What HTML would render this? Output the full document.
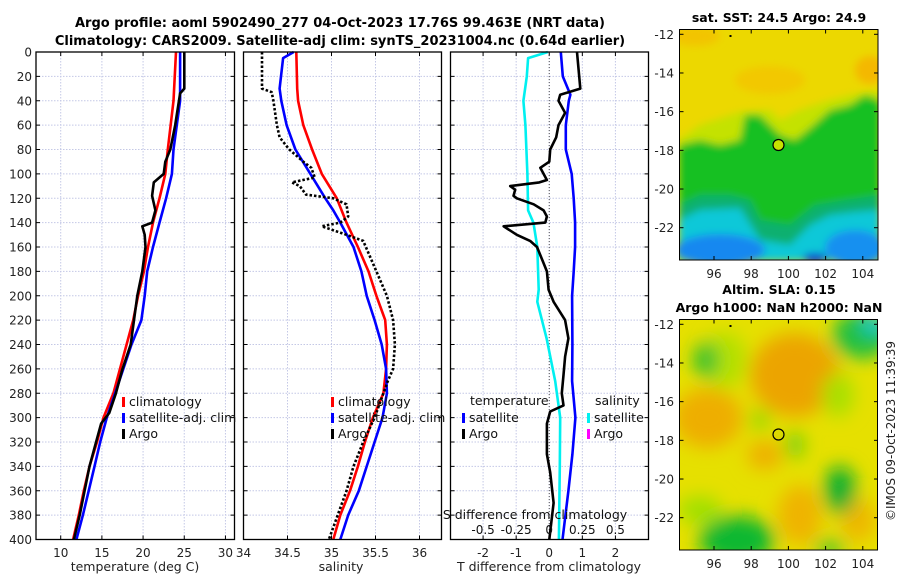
<!DOCTYPE html>
<html><head><meta charset="utf-8">
<style>
html,body{margin:0;padding:0;background:#fff;width:900px;height:580px;overflow:hidden}
svg{display:block;font-family:"DejaVu Sans","Liberation Sans",sans-serif}
</style></head>
<body>
<svg id="fig" width="900" height="580" viewBox="0 0 900 580">
<defs>
<filter id="blur1" x="-20%" y="-20%" width="140%" height="140%"><feGaussianBlur stdDeviation="4"/></filter>
<filter id="blur2" x="-50%" y="-50%" width="200%" height="200%"><feGaussianBlur stdDeviation="9"/></filter>
<clipPath id="clipM1"><rect x="679.5" y="29.5" width="198.5" height="230.5"/></clipPath>
<clipPath id="clipM2"><rect x="679.5" y="319.5" width="198" height="230.5"/></clipPath>
</defs>
<text x="340" y="27" text-anchor="middle" font-size="13" font-weight="bold">Argo profile: aoml 5902490_277 04-Oct-2023 17.76S 99.463E (NRT data)</text>
<text x="340" y="45" text-anchor="middle" font-size="13" font-weight="bold">Climatology: CARS2009. Satellite-adj clim: synTS_20231004.nc (0.64d earlier)</text>

<!-- Map 1 : SST -->
<g>
<text x="779" y="22" text-anchor="middle" font-size="12.5" font-weight="bold">sat. SST: 24.5 Argo: 24.9</text>
<g clip-path="url(#clipM1)">
<rect x="679" y="29" width="200" height="232" fill="#ecd800"/>
<g filter="url(#blur1)">
<ellipse cx="695" cy="36" rx="25" ry="10" fill="#f2c400"/>
<ellipse cx="870" cy="70" rx="15" ry="14" fill="#f4b800"/>
<ellipse cx="770" cy="80" rx="35" ry="14" fill="#f2c800"/>
<polygon points="679,140 700,125 740,112 770,110 780,120 800,110 830,100 850,95 880,90 880,150 679,175" fill="#c4e200"/>
<polygon points="679,145 700,140 720,145 740,140 745,115 760,115 780,135 795,140 810,128 830,110 850,105 865,95 880,100 880,235 679,235" fill="#16c020"/>
<polygon points="679,205 700,195 730,195 750,200 760,220 790,225 815,205 845,200 880,195 880,261 679,261" fill="#10b070"/>
<polygon points="679,220 700,210 740,208 760,240 790,245 810,225 830,215 855,212 880,210 880,261 679,261" fill="#10c8d8"/>
<ellipse cx="720" cy="250" rx="45" ry="16" fill="#1888f0"/>
<ellipse cx="855" cy="248" rx="30" ry="18" fill="#1890f0"/>
<ellipse cx="815" cy="258" rx="12" ry="5" fill="#1040d0"/>
</g>
</g>
<rect x="679.5" y="29.5" width="198.5" height="230.5" fill="none" stroke="#000" stroke-width="1"/>
<circle cx="778.5" cy="145" r="5.5" fill="#c8e200" stroke="#000" stroke-width="1.2"/>
<rect x="729.5" y="35" width="2" height="2" fill="#000"/>
<g id="m1ticks" font-size="12" fill="#222"></g>
</g>

<!-- Map 2 : SLA -->
<g>
<text x="779" y="294" text-anchor="middle" font-size="12.5" font-weight="bold">Altim. SLA: 0.15</text>
<text x="779" y="312" text-anchor="middle" font-size="12.5" font-weight="bold">Argo h1000: NaN h2000: NaN</text>
<g clip-path="url(#clipM2)">
<rect x="679" y="319" width="200" height="232" fill="#e6e000"/>
<g filter="url(#blur2)">
<ellipse cx="795" cy="375" rx="45" ry="42" fill="#eca400"/>
<ellipse cx="708" cy="418" rx="35" ry="30" fill="#eeae00"/>
<ellipse cx="765" cy="455" rx="18" ry="15" fill="#eeb000"/>
<ellipse cx="800" cy="515" rx="22" ry="30" fill="#efb400"/>
<ellipse cx="858" cy="520" rx="18" ry="22" fill="#eeb800"/>
<ellipse cx="725" cy="360" rx="22" ry="28" fill="#b4e000"/>
<ellipse cx="706" cy="360" rx="12" ry="18" fill="#20c030"/>
<ellipse cx="862" cy="335" rx="30" ry="24" fill="#20c040"/>
<ellipse cx="874" cy="324" rx="12" ry="9" fill="#10c8e0"/>
<ellipse cx="838" cy="395" rx="16" ry="22" fill="#a8e000"/>
<ellipse cx="737" cy="540" rx="38" ry="24" fill="#10b830"/>
<ellipse cx="840" cy="490" rx="16" ry="24" fill="#10b030"/>
<ellipse cx="700" cy="510" rx="22" ry="14" fill="#a0e000"/>
<ellipse cx="795" cy="445" rx="9" ry="14" fill="#70d010"/>
<ellipse cx="760" cy="420" rx="10" ry="10" fill="#90d800"/>
<ellipse cx="830" cy="548" rx="16" ry="7" fill="#20c030"/>
</g>
</g>
<rect x="679.5" y="319.5" width="198" height="230.5" fill="none" stroke="#000" stroke-width="1"/>
<circle cx="778.5" cy="434.5" r="5.5" fill="none" stroke="#000" stroke-width="1.2"/>
<rect x="729.5" y="325" width="2" height="2" fill="#000"/>
<g id="m2ticks" font-size="12" fill="#222"></g>
</g>

<text transform="translate(895,431) rotate(-90)" text-anchor="middle" font-size="12" fill="#222">©IMOS 09-Oct-2023 11:39:39</text>

<g id="panels"></g>
</svg>
<script>
// ---- data ----
const depthTicks = [0,20,40,60,80,100,120,140,160,180,200,220,240,260,280,300,320,340,360,380,400];
const tempTicks = [10,15,20,25,30];
const salTicks = [34,34.5,35,35.5,36];
const salTickLabels = ["34","34.5","35","35.5","36"];
const dTicks = [-2,-1,0,1,2];
const sdTicks = [-0.5,-0.25,0,0.25,0.5];
const sdTickLabels = ["-0.5","-0.25","0","0.25","0.5"];

const climTDepth = [0,40,80,100,120,140,160,180,200,220,240,260,280,300,320,340,360,380,400];
const climT = [24.0,23.7,23.0,22.7,22.0,21.2,20.6,20.1,19.4,18.8,18.0,17.2,16.4,15.2,14.4,13.5,12.8,12.2,11.5];
const satTDepth = [0,40,60,80,100,120,140,160,180,200,220,240,260,280,300,320,340,360,380,400];
const satT = [24.5,24.5,24.1,23.7,23.5,22.8,22.0,21.2,20.5,20.2,19.8,18.6,17.6,16.6,15.6,14.8,14.1,13.4,12.7,11.9];
const argoTDepth = [0,30,34,60,80,90,100,107,118,130,140,143,150,160,180,200,220,240,260,280,296,305,320,340,360,380,400];
const argoT = [25.0,25.0,24.5,23.9,23.3,22.7,22.5,21.3,21.1,21.5,21.1,19.9,20.2,20.3,19.9,19.3,18.9,18.5,17.5,16.7,15.9,14.9,14.3,13.5,12.9,12.3,11.6];

const climSDepth = [0,30,40,60,80,100,120,140,160,180,200,220,240,260,280,300,320,340,360,380,400];
const climS = [34.60,34.61,34.62,34.68,34.78,34.89,35.06,35.17,35.30,35.42,35.51,35.61,35.63,35.62,35.59,35.47,35.38,35.30,35.21,35.10,35.02];
const satSDepth = [0,5,30,40,60,80,100,120,130,140,160,180,200,220,240,260,280,300,320,340,360,380,400];
const satS = [34.57,34.45,34.41,34.43,34.49,34.59,34.76,34.93,35.02,35.10,35.25,35.34,35.40,35.49,35.57,35.62,35.63,35.58,35.49,35.40,35.31,35.19,35.10];
const argoSDepth = [0,30,33,40,60,70,80,90,95,103,107,110,117,120,125,135,140,143,150,155,165,180,200,220,240,260,270,300,320,340,360,380,400];
const argoS = [34.21,34.21,34.32,34.34,34.38,34.41,34.52,34.68,34.77,34.81,34.55,34.64,34.71,35.02,35.17,35.19,35.10,34.89,35.17,35.36,35.42,35.51,35.63,35.70,35.72,35.70,35.64,35.49,35.36,35.25,35.17,35.07,34.97];

const satTdDepth = [0,20,35,40,60,80,100,120,140,160,180,200,240,270,300,330,360,400];
const satTd = [0.35,0.41,0.64,0.59,0.50,0.50,0.68,0.74,0.78,0.78,0.74,0.69,0.70,0.69,0.79,0.70,0.58,0.40];
const argoTdDepth = [0,30,35,40,50,60,70,80,90,95,100,105,107,110,113,118,120,125,130,135,140,143,150,155,160,170,180,195,205,220,235,250,265,280,290,295,305,330,345,370,400];
const argoTd = [0.84,0.94,0.33,0.28,0.48,0.28,0.21,0.03,0.0,-0.27,-0.17,-0.07,-0.3,-1.18,-1.03,-1.08,-0.98,-0.47,-0.17,-0.07,-0.12,-1.38,-0.98,-0.58,-0.37,-0.22,-0.07,-0.02,0.13,0.48,0.58,0.48,0.43,0.38,0.43,0.03,-0.07,-0.07,0.03,0.13,0.0];
const satSdDepth = [0,5,20,40,60,100,130,140,160,195,205,235,270,300,340,400];
const satSd = [-0.01,-0.16,-0.17,-0.195,-0.18,-0.165,-0.16,-0.12,-0.09,-0.08,-0.09,-0.02,0.045,0.083,0.08,0.073];

const mapLonTicks = [96,98,100,102,104];
const mapLatTicks = [-12,-14,-16,-18,-20,-22];

// ---- helpers ----
const NS = "http://www.w3.org/2000/svg";
function mk(tag, attrs, parent){ const e=document.createElementNS(NS,tag); for(const k in attrs) e.setAttribute(k,attrs[k]); parent.appendChild(e); return e; }
const top0=52, bot0=539.5;
const yD = d => top0 + (d/400)*(bot0-top0);
const panels = document.getElementById('panels');

function panel(name, x0, x1, vmin, vmax, ticks, tickLabels, showDepthLabels){
  const xs = v => x0 + (v-vmin)/(vmax-vmin)*(x1-x0);
  const g = mk('g',{},panels);
  
  
  ticks.forEach(t=>{ const l=mk('line',{x1:xs(t),x2:xs(t),y1:top0,y2:bot0,stroke:'#c4c8e6','stroke-width':1,'stroke-dasharray':'1.5,1.5'},g);
      });
  depthTicks.forEach(d=>{ if(d>0&&d<400){ const l=mk('line',{x1:x0,x2:x1,y1:yD(d),y2:yD(d),stroke:'#c4c8e6','stroke-width':1,'stroke-dasharray':'1.5,1.5'},g);
      }});
  depthTicks.forEach(d=>{ mk('line',{x1:x0,x2:x0+4,y1:yD(d),y2:yD(d),stroke:'#000'},g); mk('line',{x1:x1-4,x2:x1,y1:yD(d),y2:yD(d),stroke:'#000'},g); });
  ticks.forEach(t=>{ mk('line',{x1:xs(t),x2:xs(t),y1:bot0,y2:bot0-4,stroke:'#000'},g); mk('line',{x1:xs(t),x2:xs(t),y1:top0,y2:top0+4,stroke:'#000'},g); });
  ticks.forEach((t,i)=>{ const tx=mk('text',{x:xs(t),y:557,'text-anchor':'middle','font-size':12,fill:'#222'},g); tx.textContent=tickLabels[i];
      });
  if(showDepthLabels){ depthTicks.forEach(d=>{ const tx=mk('text',{x:x0-4,y:yD(d)+4.5,'text-anchor':'end','font-size':12,fill:'#222'},g); tx.textContent=d;
      }); }
  return {g, xs};
}
function line(p, depths, vals, color, w, dash, name){
  const pts = depths.map((d,i)=>p.xs(vals[i]).toFixed(1)+','+yD(d).toFixed(1)).join(' ');
  const a={points:pts,fill:'none',stroke:color,'stroke-width':w,'stroke-linejoin':'round'};
  if(dash) a['stroke-dasharray']=dash;
  const l=mk('polyline',a,p.g);
  
  
}
function frame(p,x0,x1){ const r=mk('rect',{x:x0,y:top0,width:x1-x0,height:bot0-top0,fill:'none',stroke:'#000','stroke-width':1.3},p.g);
    }
function legendEntry(g, x, y, color, label){
  const m=mk('rect',{x:x,y:y-9,width:3,height:10,fill:color},g);
   
  const t=mk('text',{x:x+7,y:y,'font-size':12.5,fill:'#111'},g); t.textContent=label;
   
}

const p1 = panel('temperature-panel', 36, 234.5, 7, 31.1, tempTicks, tempTicks.map(String), true);
line(p1, climTDepth, climT, '#ff0000', 2.6, null, 'temperature-climatology-line');
line(p1, satTDepth, satT, '#0000ff', 2.6, null, 'temperature-satellite-line');
line(p1, argoTDepth, argoT, '#000000', 2.6, null, 'temperature-argo-line');
frame(p1,36,234.5);
const t1=mk('text',{x:135,y:571,'text-anchor':'middle','font-size':12.5,fill:'#222'},p1.g); t1.textContent='temperature (deg C)';
 
legendEntry(p1.g,122,406,'#ff0000','climatology');
legendEntry(p1.g,122,422,'#0000ff','satellite-adj. clim');
legendEntry(p1.g,122,438,'#000000','Argo');

const p2 = panel('salinity-panel', 243.5, 441.5, 34, 36.25, salTicks, salTickLabels, false);
line(p2, climSDepth, climS, '#ff0000', 2.6, null, 'salinity-climatology-line');
line(p2, satSDepth, satS, '#0000ff', 2.6, null, 'salinity-satellite-line');
line(p2, argoSDepth, argoS, '#000000', 2.6, '2.5,2', 'salinity-argo-line');
frame(p2,243.5,441.5);
const t2=mk('text',{x:341,y:571,'text-anchor':'middle','font-size':12.5,fill:'#222'},p2.g); t2.textContent='salinity';
 
legendEntry(p2.g,331,406,'#ff0000','climatology');
legendEntry(p2.g,331,422,'#0000ff','satellite-adj. clim');
legendEntry(p2.g,331,438,'#000000','Argo');

const p3 = panel('difference-panel', 450.5, 648.5, -2.985, 3.0, dTicks, dTicks.map(String), false);
const zl=mk('line',{x1:p3.xs(0),x2:p3.xs(0),y1:top0,y2:bot0,stroke:'#555','stroke-width':1,'stroke-dasharray':'1,2'},p3.g);
 
const sxs = v => v*4;
line(p3, satSdDepth, satSd.map(sxs), '#00f0f0', 2.6, null, 'salinity-diff-satellite-line');
line(p3, satTdDepth, satTd, '#0000ff', 2.6, null, 'temperature-diff-satellite-line');
line(p3, argoTdDepth, argoTd, '#000000', 2.6, null, 'temperature-diff-argo-line');
frame(p3,450.5,648.5);
const t3=mk('text',{x:549,y:571,'text-anchor':'middle','font-size':12.5,fill:'#222'},p3.g); t3.textContent='T difference from climatology';
 
const t4=mk('text',{x:535,y:519,'text-anchor':'middle','font-size':12.5,fill:'#111'},p3.g); t4.textContent='S difference from climatology';
 
sdTicks.forEach((s,i)=>{ const tx=mk('text',{x:p3.xs(s*4),y:534,'text-anchor':'middle','font-size':12,fill:'#111'},p3.g); tx.textContent=sdTickLabels[i];
    });
const lt=mk('text',{x:470,y:405,'font-size':12.5,fill:'#111'},p3.g); lt.textContent='temperature';
 
const ls=mk('text',{x:595,y:405,'font-size':12.5,fill:'#111'},p3.g); ls.textContent='salinity';
 
legendEntry(p3.g,462,422,'#0000ff','satellite');
legendEntry(p3.g,462,438,'#000000','Argo');
legendEntry(p3.g,587,422,'#00f0f0','satellite');
legendEntry(p3.g,587,438,'#ff00ff','Argo');

function mapTicks(id, top, latRef){
  const g=document.getElementById(id);
  const bottom = top+230.5;
  const lonX = lon => 714 + (lon-96)*18.6;
  const latY = lat => latRef + (-12-lat)*19.34;
  mapLonTicks.forEach(l=>{ const x=lonX(l);
    mk('line',{x1:x,x2:x,y1:bottom,y2:bottom-4,stroke:'#000'},g); mk('line',{x1:x,x2:x,y1:top,y2:top+4,stroke:'#000'},g);
    const t=mk('text',{x:x,y:bottom+18,'text-anchor':'middle'},g); t.textContent=l;
      });
  mapLatTicks.forEach(l=>{ const y=latY(l);
    mk('line',{x1:679.5,x2:683.5,y1:y,y2:y,stroke:'#000'},g); mk('line',{x1:874,x2:878,y1:y,y2:y,stroke:'#000'},g);
    const t=mk('text',{x:674,y:y+4.5,'text-anchor':'end'},g); t.textContent=l;
      });
}
mapTicks('m1ticks', 29.5, 34.3);
mapTicks('m2ticks', 319.5, 324.3);
</script>
</body></html>
